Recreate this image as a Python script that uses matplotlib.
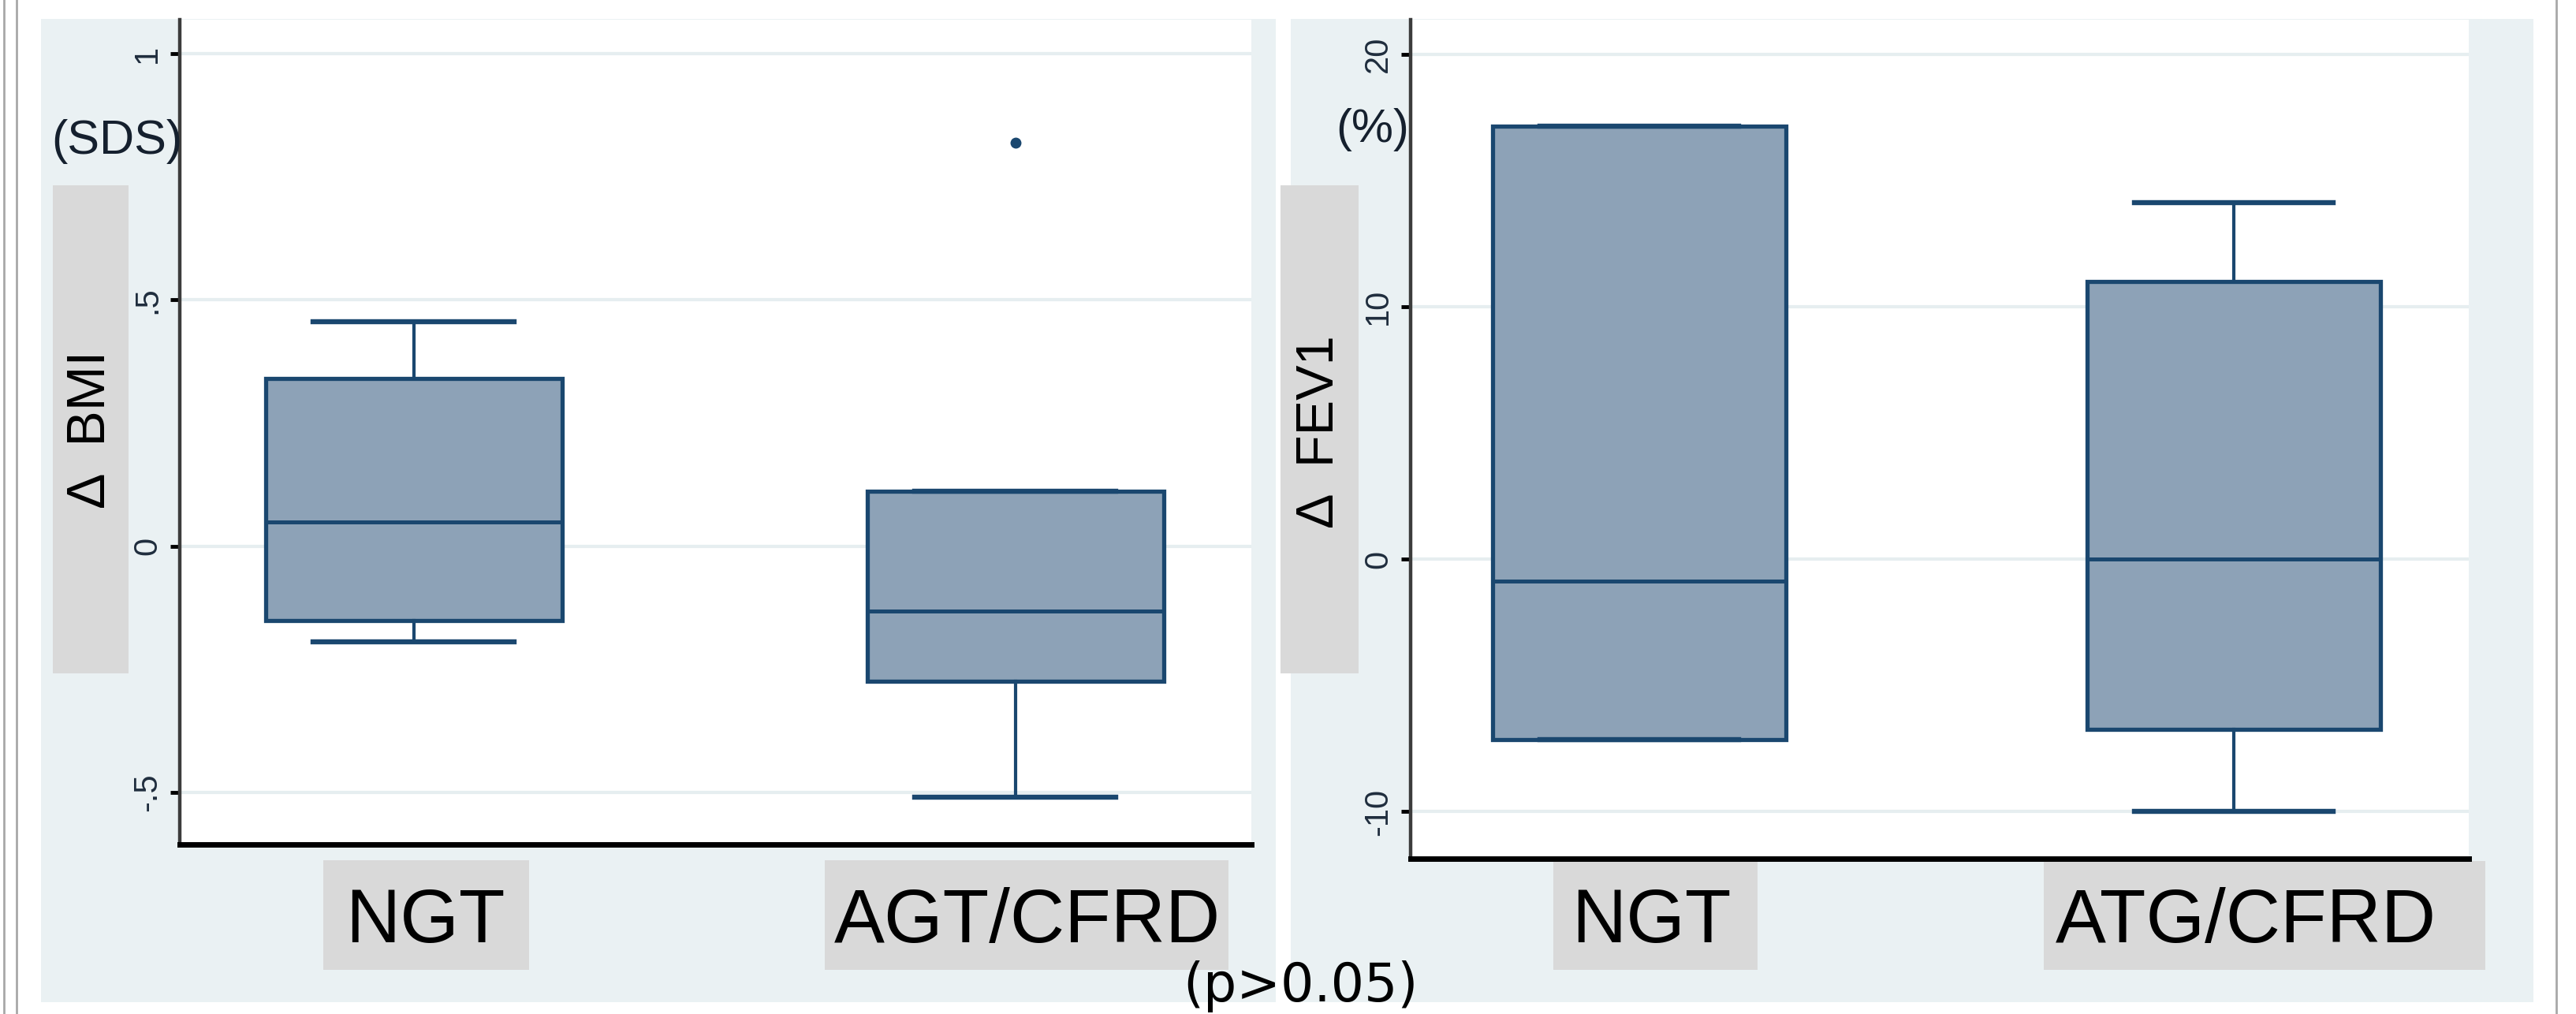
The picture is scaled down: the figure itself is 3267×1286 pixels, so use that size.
import matplotlib
matplotlib.use("Agg")
import matplotlib.pyplot as plt
from matplotlib.patches import Rectangle
from matplotlib.lines import Line2D

# --- data ---
bmi_groups = ["NGT", "AGT/CFRD"]
bmi_q1 = [-0.151, -0.274]
bmi_med = [0.049, -0.131]
bmi_q3 = [0.340, 0.112]
bmi_lo = [-0.194, -0.509]
bmi_hi = [0.455, 0.112]
bmi_out = [[], [0.819]]
bmi_ticks = [-0.5, 0, 0.5, 1]
bmi_ticklabels = ["-.5", "0", ".5", "1"]

fev_groups = ["NGT", "ATG/CFRD"]
fev_q1 = [-7.13, -6.74]
fev_med = [-0.86, 0.0]
fev_q3 = [17.15, 11.0]
fev_lo = [-7.13, -10.0]
fev_hi = [17.15, 14.13]
fev_out = [[], []]
fev_ticks = [-10, 0, 10, 20]
fev_ticklabels = ["-10", "0", "10", "20"]

W, H = 3267, 1286
NAVY = "#1A476F"
FILL = "#8DA2B7"
PANEL = "#EAF1F3"
GREYBOX = "#D9D9D9"
FONT = "Liberation Sans"

fig = plt.figure(figsize=(W / 100, H / 100), dpi=100)
fig.patch.set_facecolor("white")


def rect(x0, y0, x1, y1):
    return [x0 / W, 1 - y1 / H, (x1 - x0) / W, (y1 - y0) / H]


def fig_box(x0, y0, x1, y1, color, z):
    r = rect(x0, y0, x1, y1)
    fig.patches.append(Rectangle((r[0], r[1]), r[2], r[3], transform=fig.transFigure,
                                 facecolor=color, edgecolor="none", zorder=z))


# light panels behind each graph
fig_box(52, 24, 1618, 1271, PANEL, -2)
fig_box(1637, 24, 3213, 1271, PANEL, -2)

# grey label boxes
for b in [(67, 235, 163, 854), (1624, 235, 1723, 854),
          (410, 1091, 671, 1230), (1046, 1091, 1558, 1230),
          (1970, 1092, 2229, 1230), (2592, 1092, 3152, 1230)]:
    fig_box(*b, GREYBOX, -1)

# frame lines
for x in (5, 21, 3242):
    fig.add_artist(Line2D([x / W, x / W], [0, 1], transform=fig.transFigure,
                          color="#a8a8a8", lw=2))


def boxpanel(ax, groups, q1, med, q3, lo, hi, out, ticks, ticklabels, ylim, xlim, label_dy):
    stats = []
    for i in range(len(groups)):
        stats.append(dict(med=med[i], q1=q1[i], q3=q3[i], whislo=lo[i], whishi=hi[i],
                          fliers=out[i]))
    ax.bxp(stats, positions=[1, 2], widths=0.493, capwidths=0.334, patch_artist=True,
           showfliers=True,
           boxprops=dict(facecolor=FILL, edgecolor=NAVY, linewidth=3.8),
           medianprops=dict(color=NAVY, linewidth=3.6),
           whiskerprops=dict(color=NAVY, linewidth=3.0),
           capprops=dict(color=NAVY, linewidth=4.6),
           flierprops=dict(marker="o", markerfacecolor=NAVY, markeredgecolor=NAVY,
                           markersize=9))
    ax.set_xlim(*xlim)
    ax.set_ylim(*ylim)
    ax.set_facecolor("white")
    ax.spines["top"].set_visible(False)
    ax.spines["right"].set_visible(False)
    ax.spines["left"].set_color("#3c3c3c")
    ax.spines["left"].set_linewidth(3.2)
    ax.spines["bottom"].set_color("black")
    ax.spines["bottom"].set_linewidth(5)
    ax.set_xticks([])
    ax.set_yticks(ticks)
    ax.set_yticklabels(ticklabels, family=FONT, fontsize=30, color="#1f2d3d")
    ax.tick_params(axis="y", length=9, width=3.5, color="black", pad=6, labelrotation=90)
    for lbl in ax.get_yticklabels():
        lbl.set_va("center")
    ax.yaxis.grid(True, color="#E6EEF0", linewidth=3)
    ax.set_axisbelow(True)
    for i, g in enumerate(groups):
        ax.annotate(g, xy=(i + 1, 0), xycoords=("data", "axes fraction"),
                    xytext=(15, label_dy), textcoords="offset pixels",
                    ha="center", va="baseline", family=FONT, fontsize=69, color="black",
                    annotation_clip=False)


ax1 = fig.add_axes(rect(228, 25, 1587, 1071))
boxpanel(ax1, bmi_groups, bmi_q1, bmi_med, bmi_q3, bmi_lo, bmi_hi, bmi_out,
         bmi_ticks, bmi_ticklabels, (-0.6057, 1.069), (0.611, 2.392), -124)

ax2 = fig.add_axes(rect(1789, 25, 3131, 1089))
boxpanel(ax2, fev_groups, fev_q1, fev_med, fev_q3, fev_lo, fev_hi, fev_out,
         fev_ticks, fev_ticklabels, (-11.86, 21.38), (0.6154, 2.395), -106)

# axis titles and units
fig.text(115 / W, 1 - 545 / H, "Δ  BMI", rotation=90, ha="center", va="center",
         family=FONT, fontsize=49, color="black")
fig.text(1674 / W, 1 - 548 / H, "Δ  FEV1", rotation=90, ha="center", va="center",
         family=FONT, fontsize=48, color="black")
fig.text(231 / W, 1 - 180 / H, "(SDS)", ha="right", va="center",
         family=FONT, fontsize=44, color="#15202e")
fig.text(1787 / W, 1 - 165 / H, "(%)", ha="right", va="center",
         family=FONT, fontsize=43, color="#15202e")
fig.text(1500 / W, 1 - 1270 / H, "(p>0.05)", ha="left", va="baseline",
         family="DejaVu Sans", fontsize=48, color="black")

fig.savefig("out.png", dpi=100)
